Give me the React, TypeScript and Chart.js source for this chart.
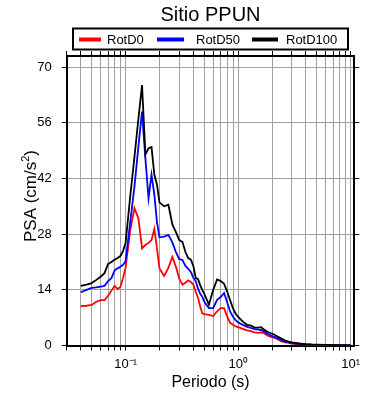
import React, { useEffect, useRef } from "react";
import { Chart, registerables } from "chart.js";

Chart.register(...registerables);

const periods = [
  0.04, 0.045, 0.05, 0.055, 0.06, 0.065, 0.07, 0.075, 0.08, 0.085, 0.09, 0.095, 0.1,
  0.11, 0.12, 0.13, 0.14, 0.15, 0.16, 0.17, 0.18, 0.19, 0.2,
  0.22, 0.24, 0.26, 0.28, 0.3, 0.32, 0.34, 0.36, 0.38, 0.4, 0.42, 0.44, 0.46, 0.48, 0.5,
  0.55, 0.6, 0.65, 0.7, 0.75, 0.8, 0.85, 0.9, 0.95, 1.0,
  1.1, 1.2, 1.3, 1.4, 1.5, 1.6, 1.7, 1.8, 1.9, 2.0,
  2.2, 2.4, 2.6, 2.8, 3.0,
  3.5, 4, 4.5, 5, 6, 7, 8, 9, 10,
];

const rotD0 = [
  9.9, 10.0, 10.2, 11.0, 11.4, 11.4, 12.5, 13.8, 15.0, 14.2, 14.7, 17, 19.5,
  29, 34.5, 32, 24.4, 25.3, 25.8, 26.5, 29.3, 24.5, 19.4,
  17.5, 19.5, 22.3, 19.8, 16.8, 15.3, 15.8, 16.4, 16.0, 15.3, 13.5, 12, 9.8, 8.1, 7.9,
  7.7, 7.4, 8.6, 9.4, 9.4, 7.2, 5.7, 5.2, 4.8, 4.6,
  4.2, 3.8, 3.6, 3.3, 3.2, 3.3, 3.1, 2.6, 2.3, 2.1,
  1.7, 1.1, 0.8, 0.7, 0.5,
  0.25, 0.15, 0.1, 0.08, 0.06, 0.05, 0.04, 0.03, 0.03,
];

const rotD50 = [
  13.4, 14.0, 14.5, 14.6, 14.8, 15.0, 16.2, 17.0, 18.9, 19.4, 19.8, 20.3, 21.2,
  31, 40, 50, 58.8, 47, 37, 43, 38, 31, 27.2,
  27.4, 27.8, 26, 23.5, 21.7, 21.5, 20, 19.3, 18.5, 17, 16.2, 14.3, 13, 12.3, 11,
  9.4, 9.4, 11.5, 12.2, 13.2, 10.8, 8.5, 7.2, 6.4, 5.8,
  5.2, 4.7, 4.4, 4.1, 4.0, 3.9, 3.5, 3.0, 2.7, 2.4,
  1.9, 1.4, 1.0, 0.8, 0.6,
  0.4, 0.3, 0.2, 0.15, 0.1, 0.08, 0.06, 0.05, 0.04,
];

const rotD100 = [
  15.0, 15.3, 15.7, 16.5, 17.3, 18.2, 20.5, 21.0, 21.6, 22.0, 22.5, 23.8, 25.8,
  37.5, 47.5, 57, 65.5, 48, 49.6, 49.9, 43, 40.5, 36,
  35, 35.4, 30.5, 28.5, 26.5, 26, 23.5, 22, 21.6, 20, 17, 16.7, 15.2, 14, 13,
  10.3, 14, 16.6, 16.2, 15.5, 13.5, 11.3, 9.3, 8, 7.2,
  6.0, 5.2, 5.0, 4.5, 4.5, 4.6, 4.0, 3.5, 3.2, 3.0,
  2.4, 1.8, 1.3, 1.0, 0.8,
  0.5, 0.35, 0.25, 0.2, 0.15, 0.1, 0.08, 0.06, 0.05,
];

const xTicks = [
  0.03, 0.04, 0.05, 0.06, 0.07, 0.08, 0.09,
  0.1, 0.2, 0.3, 0.4, 0.5, 0.6, 0.7, 0.8, 0.9,
  1, 2, 3, 4, 5, 6, 7, 8, 9, 10,
];
const yTicks = [0, 14, 28, 42, 56, 70];

const seriesNames = ["RotD0", "RotD50", "RotD100"];
const seriesColors = ["#ff0000", "#0000ff", "#000000"];
const titleText = "Sitio PPUN";
const xTitle = "Periodo (s)";
const yTitleMain = "PSA (cm/s";
const yTitleSup = "2";
const yTitleEnd = ")";

const FONT = "'Liberation Sans', Arial, Helvetica, sans-serif";

const SUP: Record<string, string> = { "-": "\u207B", "0": "\u2070", "1": "\u00B9", "2": "\u00B2", "3": "\u00B3" };

function decadeLabel(v: number): string {
  const l = Math.log10(v);
  const r = Math.round(l);
  if (Math.abs(l - r) > 1e-9) return "";
  return "10" + String(r).split("").map((ch) => SUP[ch] ?? ch).join("");
}

export default function App() {
  const ref = useRef<HTMLCanvasElement>(null);

  useEffect(() => {
    const canvas = ref.current;
    if (!canvas) return;

    const headerPlugin = {
      id: "header",
      afterDraw(chart: any) {
        const c = chart.ctx as CanvasRenderingContext2D;
        const area = chart.chartArea;
        c.save();
        c.fillStyle = "#000";
        // Title
        c.font = `20px ${FONT}`;
        c.textAlign = "center";
        c.textBaseline = "middle";
        c.fillText(titleText, (area.left + area.right) / 2, 15);

        // Legend box
        c.lineWidth = 2;
        c.strokeStyle = "#000";
        c.strokeRect(73, 28.5, 275, 21);
        const lineStarts = [79, 157, 252];
        const lineEnds = [101, 184, 278];
        const textX = [107, 196, 286];
        c.font = `13px ${FONT}`;
        c.textAlign = "left";
        for (let i = 0; i < seriesNames.length; i++) {
          c.beginPath();
          c.lineWidth = 4;
          c.strokeStyle = seriesColors[i];
          c.moveTo(lineStarts[i], 39.5);
          c.lineTo(lineEnds[i], 39.5);
          c.stroke();
          c.fillStyle = "#000";
          c.fillText(seriesNames[i], textX[i], 40);
        }

        // Y axis title with superscript
        c.translate(30, 196);
        c.rotate(-Math.PI / 2);
        c.font = `17px ${FONT}`;
        const w1 = c.measureText(yTitleMain).width;
        c.font = `11px ${FONT}`;
        const w2 = c.measureText(yTitleSup).width;
        c.font = `17px ${FONT}`;
        const w3 = c.measureText(yTitleEnd).width;
        const total = w1 + w2 + w3;
        let x0 = -total / 2;
        c.textAlign = "left";
        c.textBaseline = "alphabetic";
        c.fillText(yTitleMain, x0, 6);
        x0 += w1;
        c.font = `11px ${FONT}`;
        c.fillText(yTitleSup, x0, -1);
        x0 += w2;
        c.font = `17px ${FONT}`;
        c.fillText(yTitleEnd, x0, 6);
        c.restore();
      },
    };

    const toPts = (arr: number[]) => periods.map((p, i) => ({ x: p, y: arr[i] }));
    const gridColor = "#a0a0a0";

    const chart = new Chart(canvas, {
      type: "line",
      data: {
        datasets: [
          { label: seriesNames[0], data: toPts(rotD0), borderColor: seriesColors[0], backgroundColor: seriesColors[0], borderWidth: 1.8, pointRadius: 0, tension: 0, order: 2 },
          { label: seriesNames[1], data: toPts(rotD50), borderColor: seriesColors[1], backgroundColor: seriesColors[1], borderWidth: 1.8, pointRadius: 0, tension: 0, order: 1 },
          { label: seriesNames[2], data: toPts(rotD100), borderColor: seriesColors[2], backgroundColor: seriesColors[2], borderWidth: 1.8, pointRadius: 0, tension: 0, order: 0 },
        ],
      },
      options: {
        responsive: false,
        animation: false,
        events: [],
        layout: { padding: { top: 50, left: 0, right: 0, bottom: 0 } },
        plugins: { legend: { display: false }, title: { display: false }, tooltip: { enabled: false } },
        scales: {
          x: {
            type: "logarithmic",
            position: "bottom",
            min: 0.03,
            max: 10.75,
            afterBuildTicks: (s: any) => { s.ticks = xTicks.map((v) => ({ value: v })); },
            afterFit: (s: any) => { s.height = 54.5; },
            grid: { color: gridColor, lineWidth: 1, drawTicks: true, tickLength: 5, tickColor: "#000", tickWidth: 1 },
            border: { color: "#000", width: 2 },
            ticks: {
              autoSkip: false, maxRotation: 0, minRotation: 0, color: "#000",
              font: { family: FONT, size: 13 }, padding: 6,
              callback: (v: any) => decadeLabel(Number(v)),
            },
            title: { display: true, text: xTitle, color: "#000", font: { family: FONT, size: 16 }, padding: { top: 0, bottom: 8 } },
          },
          x2: {
            type: "logarithmic",
            position: "top",
            min: 0.03,
            max: 10.75,
            afterBuildTicks: (s: any) => { s.ticks = xTicks.map((v) => ({ value: v })); },
            afterFit: (s: any) => { s.height = 6; },
            grid: { drawOnChartArea: false, drawTicks: true, tickLength: 5, tickColor: "#000", color: "#000" },
            border: { color: "#000", width: 2 },
            ticks: { display: false },
          },
          y: {
            type: "linear",
            position: "left",
            min: 0,
            max: 72.8,
            afterBuildTicks: (s: any) => { s.ticks = yTicks.map((v) => ({ value: v })); },
            afterFit: (s: any) => { s.width = 66.7; },
            grid: { color: gridColor, lineWidth: 1, drawTicks: true, tickLength: 5, tickColor: "#000" },
            border: { color: "#000", width: 2 },
            ticks: { color: "#000", font: { family: FONT, size: 13 }, padding: 10 },
          },
          y2: {
            type: "linear",
            position: "right",
            min: 0,
            max: 72.8,
            afterBuildTicks: (s: any) => { s.ticks = yTicks.map((v) => ({ value: v })); },
            afterFit: (s: any) => { s.width = 35.7; },
            grid: { drawOnChartArea: false, drawTicks: true, tickLength: 5, tickColor: "#000", color: "#000" },
            border: { color: "#000", width: 2 },
            ticks: { display: false },
          },
        },
      },
      plugins: [headerPlugin],
    } as any);

    return () => chart.destroy();
  }, []);

  return (
    <div style={{ position: "absolute", left: 0, top: 0, width: 390, height: 400, background: "#fff" }}>
      <canvas ref={ref} width={390} height={400} style={{ width: 390, height: 400, display: "block" }} />
    </div>
  );
}
